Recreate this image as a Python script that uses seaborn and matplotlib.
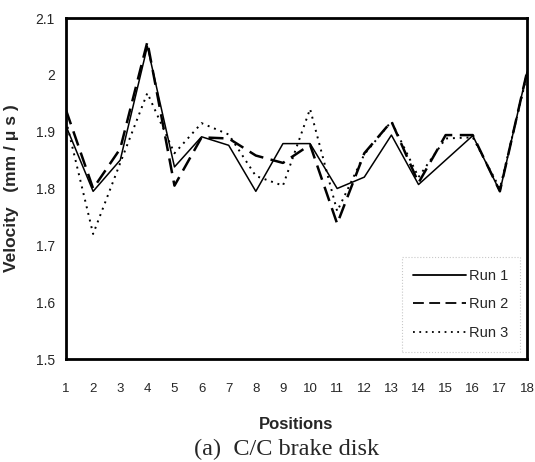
import numpy as np
import pandas as pd
import matplotlib
matplotlib.use("Agg")
import matplotlib.pyplot as plt
import seaborn as sns

positions = list(range(1, 19))
run1 = [1.91, 1.795, 1.85, 2.05, 1.838, 1.891, 1.876, 1.795, 1.879, 1.879, 1.80, 1.82, 1.894, 1.807, 1.85, 1.893, 1.795, 2.005]
run2 = [1.938, 1.80, 1.87, 2.058, 1.805, 1.89, 1.888, 1.858, 1.845, 1.877, 1.738, 1.862, 1.918, 1.81, 1.894, 1.894, 1.795, 2.005]
run3 = [1.92, 1.72, 1.845, 1.968, 1.862, 1.915, 1.895, 1.822, 1.805, 1.94, 1.76, 1.86, 1.918, 1.82, 1.888, 1.89, 1.80, 2.0]
run_names = ["Run 1", "Run 2", "Run 3"]
yticks = [1.5, 1.6, 1.7, 1.8, 1.9, 2.0, 2.1]
ytick_labels = ["1.5", "1.6", "1.7", "1.8", "1.9", "2", "2.1"]

df = pd.DataFrame({
    "Positions": positions * 3,
    "Velocity": run1 + run2 + run3,
    "Run": [run_names[0]] * 18 + [run_names[1]] * 18 + [run_names[2]] * 18,
})

sns.set_style("white")
plt.rcParams["font.family"] = ["Liberation Sans", "DejaVu Sans"]

fig = plt.figure(figsize=(5.35, 4.62), dpi=100)
ax = fig.add_axes([66 / 535, 1 - 359 / 462, (527 - 66) / 535, (359 - 18) / 462])

sns.lineplot(
    data=df, x="Positions", y="Velocity", style="Run", hue="Run",
    palette=["black", "black", "black"],
    dashes={"Run 1": "", "Run 2": (6, 3), "Run 3": (1, 2.5)},
    linewidth=1.3, ax=ax, legend=True,
)
for line, lw in zip(ax.get_lines()[:3], [1.1, 1.8, 1.4]):
    line.set_linewidth(lw)

ax.set_xlim(1, 18)
ax.set_ylim(1.5, 2.1)
ax.set_xticks(positions)
ax.set_xticklabels([str(p) for p in positions], fontsize=9.5)
ax.set_yticks(yticks)
ax.set_yticklabels(ytick_labels, fontsize=10)
ax.tick_params(axis="y", length=0, pad=8)
ax.tick_params(axis="x", length=0, pad=17)
for s in ax.spines.values():
    s.set_color("black")
    s.set_linewidth(2)

ax.set_xlabel("Positions", fontsize=12, fontweight="bold", labelpad=16)
ax.set_ylabel("Velocity   (mm / μ s )", fontsize=12.5, fontweight="bold", labelpad=12)

leg = ax.legend(
    loc="lower right", bbox_to_anchor=(1.0, 0.0), fontsize=10.5, frameon=True,
    handlelength=3.6, handletextpad=0.2, labelspacing=1.0, borderpad=0.8,
    fancybox=False,
)
leg.get_frame().set_edgecolor("#bbbbbb")
leg.get_frame().set_linestyle(":")
leg.get_frame().set_linewidth(0.8)

fig.text(0.536, 1 - 449 / 462, "(a)  C/C brake disk", ha="center", va="center",
         fontsize=17.5, family=["Liberation Serif", "DejaVu Serif"])

fig.savefig("out.png", dpi=100)
